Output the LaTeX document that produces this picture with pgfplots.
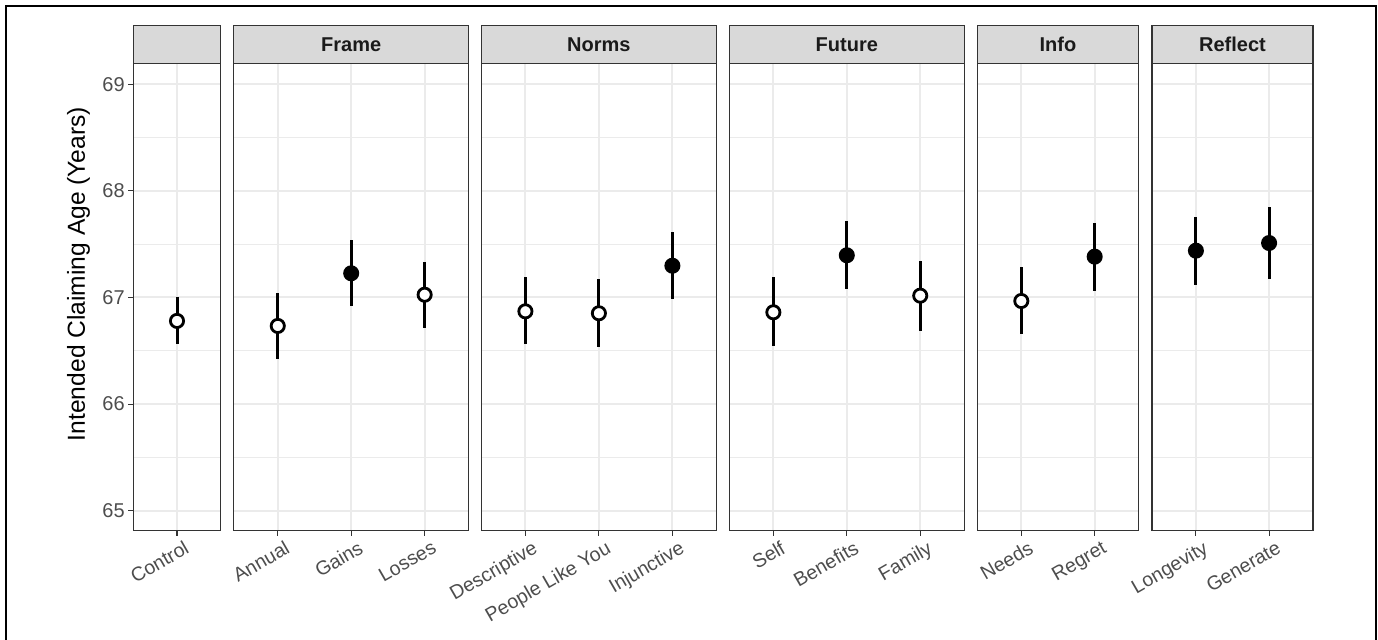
\documentclass[border=0pt]{standalone}
\usepackage{pgfplots}
\pgfplotsset{compat=1.18}
\usepackage{fontspec}
\setmainfont{Liberation Sans}
\definecolor{gridc}{HTML}{EBEBEB}
\definecolor{g20}{HTML}{333333}
\definecolor{g30}{HTML}{4D4D4D}
\definecolor{g85}{HTML}{D9D9D9}
\definecolor{g10}{HTML}{1A1A1A}
\pgfplotsset{
  panel/.style={
    scale only axis, height=233.7pt, anchor=south west,
    ymin=64.812, ymax=69.197,
    ytick={65,66,67,68,69}, minor ytick={65.5,66.5,67.5,68.5},
    ymajorgrids, yminorgrids, xmajorgrids,
    major grid style={gridc, line width=1pt},
    minor grid style={gridc, line width=0.5pt},
    axis line style={g20, line width=0.55pt},
    tick align=outside, major tick length=2.6pt, minor tick length=0pt,
    tick style={g20, line width=0.55pt},
    xtick pos=bottom, ytick pos=left,
    xticklabel style={font=\fontsize{9.8}{11}\selectfont, text=g30, xshift=3.5pt, yshift=-0.4pt, rotate=30, anchor=north east, inner sep=1pt},
    yticklabel style={font=\fontsize{10}{11}\selectfont, text=g30, inner sep=1.5pt},
    /pgf/number format/assume math mode=true,
    clip=false,
  },
  noy/.style={yticklabels={}, y tick style={draw=none}},
  openpt/.style={only marks, mark=*, mark size=3.3pt,
    mark options={draw=black, fill=white, line width=1.4pt},
    error bars/.cd, y dir=both, y explicit, error mark=none,
    error bar style={line width=1.5pt, black}},
  fillpt/.style={only marks, mark=*, mark size=3.5pt,
    mark options={draw=black, fill=black, line width=1pt},
    error bars/.cd, y dir=both, y explicit, error mark=none,
    error bar style={line width=1.5pt, black}},
  /pgfplots/table/errtab/.style={x=x, y=y, y error plus expr=\thisrow{hi}-\thisrow{y}, y error minus expr=\thisrow{y}-\thisrow{lo}},
}
\newcommand{\strip}[2]{%
  \draw[fill=g85, draw=g20, line width=0.55pt] (#1.north west) rectangle ([yshift=18.8pt]#1.north east);
  \node[font=\bfseries\fontsize{10}{12}\selectfont, text=g10] at ([yshift=9.4pt]#1.north) {#2};
}
\begin{document}
\begin{tikzpicture}
\path[use as bounding box] (0,0) rectangle (689pt,319.5pt);

% Control
\begin{axis}[panel, name=p1, at={(66.65pt,54.15pt)}, width=43.7pt,
  xmin=-0.6, xmax=0.6, xtick={0}, xticklabels={Control}]
\addplot[openpt] table[errtab] {
x y lo hi
0 66.78 66.564 67.005
};
\end{axis}
\strip{p1}{}

% Frame
\begin{axis}[panel, noy, name=p2, at={(116.85pt,54.15pt)}, width=117.5pt,
  xmin=-0.6, xmax=2.6, xtick={0,1,2}, xticklabels={Annual,Gains,Losses}]
\addplot[openpt] table[errtab] {
x y lo hi
0 66.733 66.42 67.045
2 67.026 66.714 67.333
};
\addplot[fillpt] table[errtab] {
x y lo hi
1 67.227 66.92 67.54
};
\end{axis}
\strip{p2}{Frame}

% Norms
\begin{axis}[panel, noy, name=p3, at={(240.65pt,54.15pt)}, width=117.6pt,
  xmin=-0.6, xmax=2.6, xtick={0,1,2}, xticklabels={Descriptive,People Like You,Injunctive}]
\addplot[openpt] table[errtab] {
x y lo hi
0 66.87 66.56 67.19
1 66.852 66.54 67.171
};
\addplot[fillpt] table[errtab] {
x y lo hi
2 67.298 66.983 67.612
};
\end{axis}
\strip{p3}{Norms}

% Future
\begin{axis}[panel, noy, name=p4, at={(364.65pt,54.15pt)}, width=117.5pt,
  xmin=-0.6, xmax=2.6, xtick={0,1,2}, xticklabels={Self,Benefits,Family}]
\addplot[openpt] table[errtab] {
x y lo hi
0 66.861 66.545 67.19
2 67.017 66.683 67.342
};
\addplot[fillpt] table[errtab] {
x y lo hi
1 67.396 67.08 67.718
};
\end{axis}
\strip{p4}{Future}

% Info
\begin{axis}[panel, noy, name=p5, at={(488.65pt,54.15pt)}, width=80.7pt,
  xmin=-0.6, xmax=1.6, xtick={0,1}, xticklabels={Needs,Regret}]
\addplot[openpt] table[errtab] {
x y lo hi
0 66.967 66.655 67.283
};
\addplot[fillpt] table[errtab] {
x y lo hi
1 67.383 67.064 67.70
};
\end{axis}
\strip{p5}{Info}

% Reflect
\begin{axis}[panel, noy, name=p6, at={(576pt,54.15pt)}, width=80.5pt,
  xmin=-0.6, xmax=1.6, xtick={0,1}, xticklabels={Longevity,Generate}]
\addplot[fillpt] table[errtab] {
x y lo hi
0 67.439 67.12 67.752
1 67.511 67.176 67.849
};
\end{axis}
\strip{p6}{Reflect}

\node[rotate=90, font=\fontsize{12.3}{14}\selectfont, text=black] at (39.3pt,182.5pt) {Intended Claiming Age (Years)};
\draw[line width=0.6pt, black] (3pt,-2pt) -- (3pt,316.5pt) -- (688pt,316.5pt) -- (688pt,-2pt);
\end{tikzpicture}
\end{document}
